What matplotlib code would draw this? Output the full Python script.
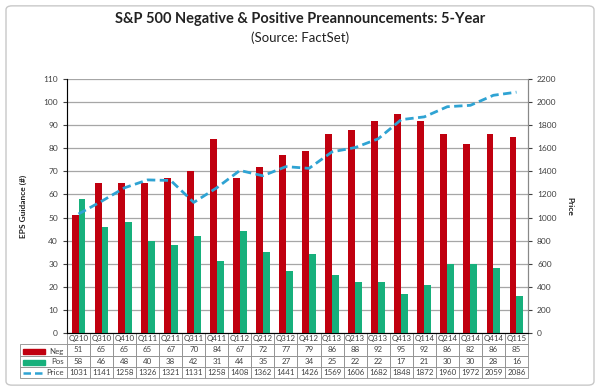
import matplotlib.pyplot as plt
from matplotlib.patches import Rectangle, FancyBboxPatch
from matplotlib.lines import Line2D

quarters = ['Q210', 'Q310', 'Q410', 'Q111', 'Q211', 'Q311', 'Q411', 'Q112', 'Q212', 'Q312',
            'Q412', 'Q113', 'Q213', 'Q313', 'Q413', 'Q114', 'Q214', 'Q314', 'Q414', 'Q115']
neg = [51, 65, 65, 65, 67, 70, 84, 67, 72, 77, 79, 86, 88, 92, 95, 92, 86, 82, 86, 85]
pos = [58, 46, 48, 40, 38, 42, 31, 44, 35, 27, 34, 25, 22, 22, 17, 21, 30, 30, 28, 16]
price = [1031, 1141, 1258, 1326, 1321, 1131, 1258, 1408, 1362, 1441,
         1426, 1569, 1606, 1682, 1848, 1872, 1960, 1972, 2059, 2086]

RED = '#c0000f'
GREEN = '#17b07c'
BLUE = '#2fa3d3'
TXT = '#404040'

plt.rcParams['font.family'] = ['Lato', 'DejaVu Sans']

fig = plt.figure(figsize=(6, 3.91), dpi=100)
fig.patches.append(FancyBboxPatch((0.01, 0.015), 0.98, 0.97, boxstyle='round,pad=0,rounding_size=0.01',
                                  transform=fig.transFigure, fc='none', ec='#c8c8c8', lw=1, zorder=-1))

ax = fig.add_axes([67 / 600, 1 - 333 / 391, 461 / 600, 254 / 391])
x = list(range(len(quarters)))
ax.bar([i - 0.15 for i in x], neg, width=0.3, color=RED, zorder=3)
ax.bar([i + 0.15 for i in x], pos, width=0.3, color=GREEN, zorder=3)
ax.set_xlim(-0.5, len(quarters) - 0.5)
ax.set_ylim(0, 110)
ax.set_yticks(range(0, 111, 10))
ax.yaxis.grid(True, color='#a6a6a6', lw=0.9, zorder=0)
ax.set_xticks([])
ax.tick_params(axis='y', labelsize=6, colors=TXT, length=3, width=0.8)
for s in ['left', 'right', 'bottom']:
    ax.spines[s].set_color('#888888')
ax.spines['top'].set_visible(False)
ax.set_ylabel('EPS Guidance (#)', fontsize=6, fontweight='bold', color='#222222', labelpad=12)

ax2 = ax.twinx()
ax2.plot(x, price, color=BLUE, lw=2, ls=(0, (3, 1.6)), zorder=4)
ax2.set_ylim(0, 2200)
ax2.set_yticks(range(0, 2201, 200))
ax2.tick_params(axis='y', labelsize=6, colors=TXT, length=3, width=0.8)
ax2.spines['top'].set_visible(False)
ax2.spines['right'].set_color('#888888')
ax2.set_ylabel('Price', fontsize=6, fontweight='bold', color='#222222', rotation=270, labelpad=12)

fig.text(0.5, 1 - 19 / 391, 'S&P 500 Negative & Positive Preannouncements: 5-Year',
         ha='center', va='center', fontsize=10.5, fontweight='bold', color='#222222')
fig.text(0.5, 1 - 38 / 391, '(Source: FactSet)', ha='center', va='center', fontsize=9.5, color='#222222')

# data table under the chart
rows = [[str(v) for v in neg], [str(v) for v in pos], [str(v) for v in price]]
cell_text = [[''] + r for r in rows]
ncol = len(quarters)
lab_w = 47 / 461
col_w = [lab_w] + [1 / ncol] * ncol
tbl = ax.table(cellText=cell_text, colLabels=[''] + quarters, colWidths=col_w,
               cellLoc='center', bbox=[-lab_w, -45 / 254, 1 + lab_w, 45 / 254])
tbl.auto_set_font_size(False)
for (r, c), cell in tbl.get_celld().items():
    cell.set_fontsize(5.7)
    cell.set_edgecolor('#8c8c8c')
    cell.set_linewidth(0.6)
    cell.get_text().set_color(TXT)
    if r == 0 and c == 0:
        cell.visible_edges = ''

labels = ['Neg', 'Pos', 'Price']
for k, lab in enumerate(labels):
    yc = 1 - (351.5 + k * 10.5) / 391
    fig.text(64 / 600, yc, lab, ha='right', va='center', fontsize=5.7, color=TXT)
    if k < 2:
        fig.patches.append(Rectangle((23 / 600, yc - 2.5 / 391), 22 / 600, 5 / 391,
                                     transform=fig.transFigure, color=[RED, GREEN][k]))
    else:
        fig.lines.append(Line2D([23 / 600, 45 / 600], [yc, yc], transform=fig.transFigure,
                                color=BLUE, lw=1.8, ls=(0, (3, 1.6))))

fig.savefig('out.png', dpi=100)
